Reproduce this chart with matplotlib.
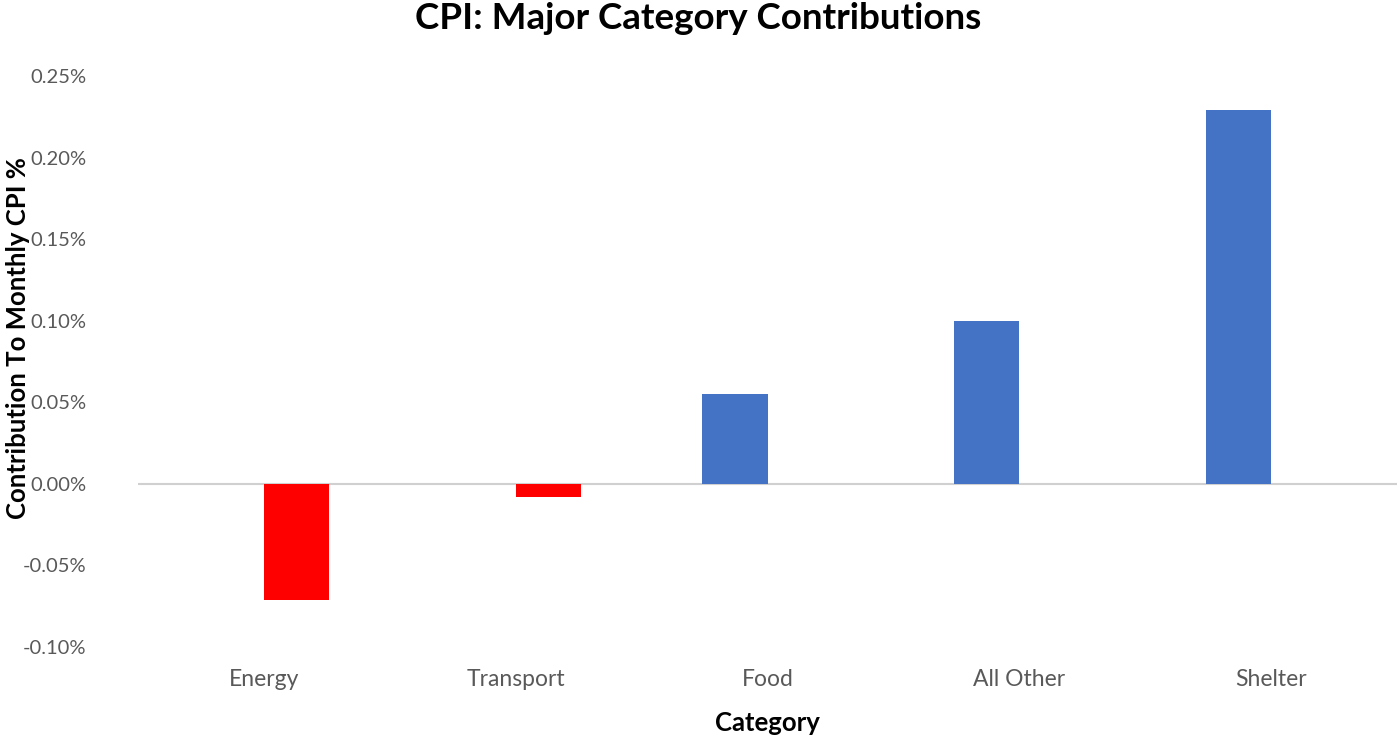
import matplotlib
matplotlib.use("Agg")
import matplotlib.pyplot as plt
from matplotlib.ticker import FuncFormatter, MultipleLocator

# Data (percent contribution to monthly CPI)
categories = ["Energy", "Transport", "Food", "All Other", "Shelter"]
contributions = [-0.071, -0.008, 0.055, 0.100, 0.229]

plt.rcParams["font.family"] = ["Lato", "DejaVu Sans"]

fig = plt.figure(figsize=(13.97, 7.36), dpi=100)
ax = fig.add_axes([0.0988, 0.1209, 0.9012, 0.7758])

bar_w = 0.26
x = list(range(len(categories)))
# two series as in the spreadsheet: positives on the left slot, negatives on the right
for i, v in zip(x, contributions):
    if v >= 0:
        ax.bar(i - bar_w / 2, v, width=bar_w, color="#4472C4")
    else:
        ax.bar(i + bar_w / 2, v, width=bar_w, color="#FF0000")

ax.axhline(0, color="#d0d0d0", lw=1.5, zorder=0)
ax.set_xlim(-0.5, len(categories) - 0.5)
ax.set_ylim(-0.10, 0.25)
ax.yaxis.set_major_locator(MultipleLocator(0.05))
ax.yaxis.set_major_formatter(FuncFormatter(lambda v, p: f"{v:.2f}%"))

ax.set_xticks(x)
ax.set_xticklabels(categories)
ax.tick_params(axis="both", length=0, colors="#595959")
ax.tick_params(axis="x", pad=16, labelsize=16.5)
ax.tick_params(axis="y", pad=37, labelsize=14.5)
for s in ax.spines.values():
    s.set_visible(False)

fig.text(0.5, 0.975, "CPI: Major Category Contributions", ha="center", va="center",
         fontsize=26.5, fontweight="bold", color="black")
fig.text(0.549, 0.018, "Category", ha="center", va="center",
         fontsize=18.5, fontweight="bold", color="black")
fig.text(0.013, 0.54, "Contribution To Monthly CPI %", ha="center", va="center",
         rotation=90, fontsize=18.5, fontweight="bold", color="black")

fig.savefig("out.png", dpi=100)
